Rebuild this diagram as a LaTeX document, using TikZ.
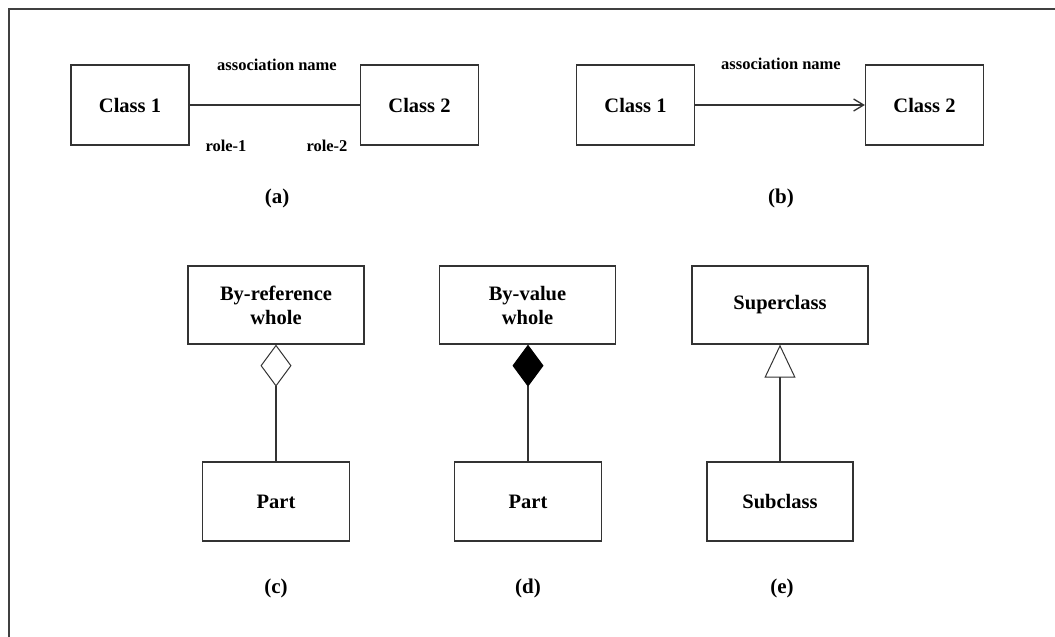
\documentclass[tikz,border=0pt]{standalone}
\usepackage{fontspec}
\setmainfont{Liberation Serif}
\usetikzlibrary{arrows.meta}
\begin{document}
\begin{tikzpicture}[x=1pt,y=-1pt,
  umlbox/.style={draw=black!80, line width=1.3pt, fill=white, inner sep=0pt,
    align=center, font=\fontsize{20.5}{24}\selectfont\bfseries},
  small/.style={inner sep=0pt, font=\fontsize{16.5}{19}\selectfont\bfseries},
  caption/.style={inner sep=0pt, font=\fontsize{21}{24}\selectfont\bfseries},
  link/.style={draw=black!80, line width=1.3pt}]
\useasboundingbox (0,0) rectangle (1055,637);
% frame
\draw[black!75, line width=1.8pt] (9,637) -- (9,9) -- (1055,9);

% (a) association with role names
\node[umlbox, minimum width=118pt, minimum height=80pt] (c1a) at (130,105) {Class 1};
\node[umlbox, minimum width=118pt, minimum height=80pt] (c2a) at (419.5,105) {Class 2};
\draw[link] (c1a.east) -- (c2a.west);
\node[small] (assoca) at (277,65) {association name};
\node[small] (role1) at (226,146) {role-1};
\node[small] (role2) at (327,146) {role-2};
\node[caption] (capa) at (277,198) {(a)};

% (b) directed association
\node[umlbox, minimum width=118pt, minimum height=80pt] (c1b) at (635.5,105) {Class 1};
\node[umlbox, minimum width=118pt, minimum height=80pt] (c2b) at (924.5,105) {Class 2};
\draw[link, -{Straight Barb[length=10pt, width=12pt]}] (c1b.east) -- (c2b.west);
\node[small] (assocb) at (781,64) {association name};
\node[caption] (capb) at (781,198) {(b)};

% (c) aggregation
\node[umlbox, minimum width=176pt, minimum height=78pt] (wholec) at (276,305) {By-reference\\whole};
\node[umlbox, minimum width=147pt, minimum height=79pt] (partc) at (276,501.5) {Part};
\draw[link, -{Diamond[open, length=42pt, width=31pt, line width=1pt]}] (partc.north) -- (partc.north |- wholec.south);
\node[caption] (capc) at (276,588) {(c)};

% (d) composition
\node[umlbox, minimum width=176pt, minimum height=78pt] (wholed) at (527.5,305) {By-value\\whole};
\node[umlbox, minimum width=147pt, minimum height=79pt] (partd) at (528,501.5) {Part};
\draw[link, -{Diamond[length=42pt, width=31pt, line width=1pt, fill=black, color=black]}] (partd.north) -- (partd.north |- wholed.south);
\node[caption] (capd) at (528,588) {(d)};

% (e) generalization
\node[umlbox, minimum width=176pt, minimum height=78pt] (supere) at (780,305) {Superclass};
\node[umlbox, minimum width=146pt, minimum height=79pt] (sube) at (780,501.5) {Subclass};
\draw[link, -{Triangle[open, length=33pt, width=31pt, line width=1pt]}] (sube.north) -- (sube.north |- supere.south);
\node[caption] (cape) at (782,588) {(e)};
\end{tikzpicture}
\end{document}
